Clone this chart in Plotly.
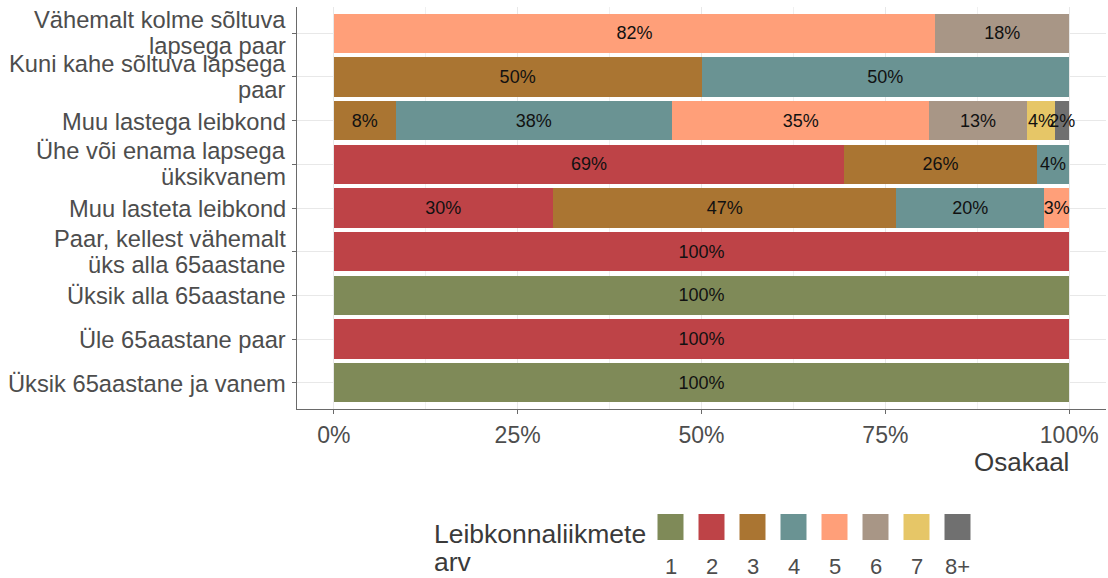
import plotly.graph_objects as go

# ---------------- data ----------------
categories = [
    "Vähemalt kolme sõltuva lapsega paar",
    "Kuni kahe sõltuva lapsega paar",
    "Muu lastega leibkond",
    "Ühe või enama lapsega üksikvanem",
    "Muu lasteta leibkond",
    "Paar, kellest vähemalt üks alla 65aastane",
    "Üksik alla 65aastane",
    "Üle 65aastane paar",
    "Üksik 65aastane ja vanem",
]
category_label_lines = [
    ["Vähemalt kolme sõltuva", "lapsega paar"],
    ["Kuni kahe sõltuva lapsega", "paar"],
    ["Muu lastega leibkond"],
    ["Ühe või enama lapsega", "üksikvanem"],
    ["Muu lasteta leibkond"],
    ["Paar, kellest vähemalt", "üks alla 65aastane"],
    ["Üksik alla 65aastane"],
    ["Üle 65aastane paar"],
    ["Üksik 65aastane ja vanem"],
]
size_groups = ["1", "2", "3", "4", "5", "6", "7", "8+"]
# shares in percent, per household-size group, in the order of `categories`
share_1 = [0, 0, 0, 0, 0, 0, 100, 0, 100]
share_2 = [0, 0, 0, 69.4, 29.8, 100, 0, 100, 0]
share_3 = [0, 50, 8.4, 26.2, 46.7, 0, 0, 0, 0]
share_4 = [0, 50, 37.6, 4.4, 20.1, 0, 0, 0, 0]
share_5 = [81.8, 0, 35.0, 0, 3.4, 0, 0, 0, 0]
share_6 = [18.2, 0, 13.2, 0, 0, 0, 0, 0, 0]
share_7 = [0, 0, 3.9, 0, 0, 0, 0, 0, 0]
share_8 = [0, 0, 1.9, 0, 0, 0, 0, 0, 0]
x_tick_values = [0, 0.25, 0.5, 0.75, 1.0]
x_tick_labels = ["0%", "25%", "50%", "75%", "100%"]
x_title = "Osakaal"
legend_title_lines = ["Leibkonnaliikmete", "arv"]

# ---------------- style ----------------
colors = ["#7f8a58", "#be4347", "#aa7532", "#6a9393", "#ff9f79",
          "#a89686", "#e6c667", "#707070"]
FONT = "Liberation Sans, Arial, sans-serif"
TICK_COLOR = "#4d4d4d"
TITLE_COLOR = "#3a3a3a"
W, H = 1108, 578
ML, MR, MT, MB = 297, 2, 7, 169
PW, PH = W - ML - MR, H - MT - MB


def px_x(px):
    return (px - ML) / PW


def px_y(py):
    return (H - MB - py) / PH


all_shares = [share_1, share_2, share_3, share_4, share_5, share_6, share_7, share_8]

fig = go.Figure()
for name, vals, col in zip(size_groups, all_shares, colors):
    xs = [v / 100 if v > 0 else None for v in vals]
    txt = [f"{round(v)}%" if v > 0 else "" for v in vals]
    fig.add_trace(go.Bar(
        y=categories, x=xs, orientation="h", name=name,
        marker=dict(color=col, line=dict(width=0)),
        width=0.9, text=txt, texttemplate="%{text}",
        textposition="inside", insidetextanchor="middle",
        textangle=0, constraintext="none",
        textfont=dict(family=FONT, size=18, color="#111111"),
        showlegend=False, hoverinfo="x+y+name",
    ))

annotations = []
# y-axis category labels (two-line labels with tight line spacing)
for cat, lines in zip(categories, category_label_lines):
    if len(lines) == 1:
        shifts = [-1]
    else:
        shifts = [13, -13]
    for line, sh in zip(lines, shifts):
        annotations.append(dict(
            xref="paper", yref="y", x=px_x(288), y=cat, yshift=sh,
            text=line, showarrow=False, xanchor="right", yanchor="middle",
            font=dict(family=FONT, size=23.7, color=TICK_COLOR),
        ))

# x-axis title
annotations.append(dict(
    xref="paper", yref="paper", x=px_x(1071), y=px_y(462),
    text=x_title, showarrow=False, xanchor="right", yanchor="middle",
    font=dict(family=FONT, size=26, color=TITLE_COLOR),
))

# legend (keys with labels underneath)
annotations.append(dict(
    xref="paper", yref="paper", x=px_x(432), y=px_y(534),
    text=legend_title_lines[0], showarrow=False, xanchor="left", yanchor="middle",
    font=dict(family=FONT, size=26.5, color=TITLE_COLOR),
))
annotations.append(dict(
    xref="paper", yref="paper", x=px_x(432), y=px_y(562),
    text=legend_title_lines[1], showarrow=False, xanchor="left", yanchor="middle",
    font=dict(family=FONT, size=26.5, color=TITLE_COLOR),
))
shapes = []
key_left0, key_step, key_size = 657.5, 41.0, 26
for i, (name, col) in enumerate(zip(size_groups, colors)):
    x0 = key_left0 + i * key_step
    shapes.append(dict(
        type="rect", xref="paper", yref="paper",
        x0=px_x(x0), x1=px_x(x0 + key_size),
        y0=px_y(514), y1=px_y(540),
        fillcolor=col, line=dict(width=0), layer="above",
    ))
    annotations.append(dict(
        xref="paper", yref="paper", x=px_x(x0 + key_size / 2), y=px_y(566),
        text=name, showarrow=False, xanchor="center", yanchor="middle",
        font=dict(family=FONT, size=22, color=TICK_COLOR),
    ))

fig.update_layout(
    width=W, height=H,
    margin=dict(l=ML, r=MR, t=MT, b=MB, pad=0),
    barmode="stack",
    bargap=0.1,
    plot_bgcolor="white", paper_bgcolor="white",
    font=dict(family=FONT, color=TICK_COLOR),
    annotations=annotations,
    shapes=shapes,
    showlegend=False,
)
fig.update_xaxes(
    range=[-0.05, 1.05], tickvals=x_tick_values, ticktext=x_tick_labels,
    tickfont=dict(family=FONT, size=23, color=TICK_COLOR),
    showgrid=True, gridcolor="#e8e8e8", gridwidth=1.2,
    minor=dict(tickvals=[0.125, 0.375, 0.625, 0.875], showgrid=True,
               gridcolor="#f0f0f0", gridwidth=0.7),
    zeroline=False, showline=True, linecolor="#6a6a6a", linewidth=1.4,
    ticks="outside", ticklen=4, tickwidth=1.4, tickcolor="#6a6a6a",
    ticklabelstandoff=1,
)
fig.update_yaxes(
    type="category", categoryorder="array", categoryarray=categories,
    range=[8.6, -0.6], showticklabels=False,
    showgrid=True, gridcolor="#e8e8e8", gridwidth=1.2,
    zeroline=False, showline=True, linecolor="#6a6a6a", linewidth=1.4,
    ticks="outside", ticklen=4, tickwidth=1.4, tickcolor="#6a6a6a",
)

fig.write_html(
    "out.html",
    config={"displayModeBar": False},
    post_script="document.body.style.margin='0px';document.body.style.overflow='hidden';",
)
